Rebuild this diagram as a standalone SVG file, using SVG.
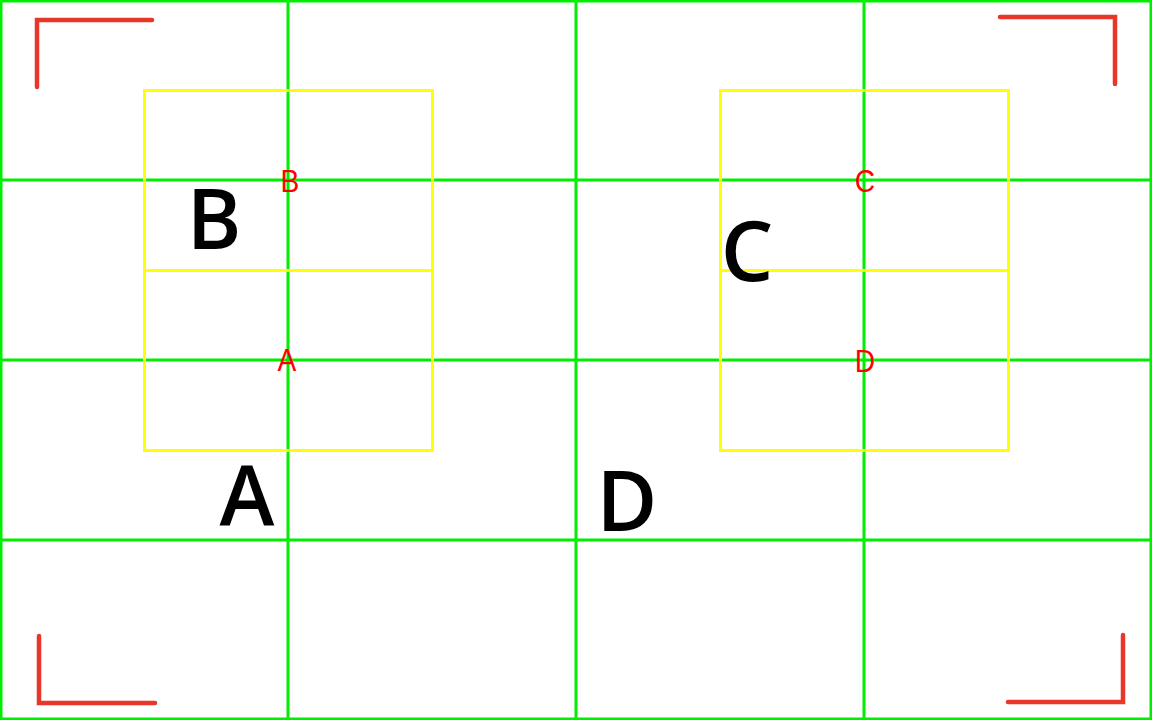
<svg xmlns="http://www.w3.org/2000/svg" width="1152" height="720" viewBox="0 0 1152 720">
<style>
.g{stroke:#00ee00;stroke-width:3;fill:none}
.y{stroke:#ffff00;stroke-width:3;fill:none}
.c{stroke:#e8372a;stroke-width:4.5;fill:none;stroke-linecap:round}
.big{font-family:"Open Sans","Noto Sans",sans-serif;font-size:83px;font-weight:600;fill:#000;text-anchor:middle}
.sm{font-family:"Liberation Sans",Arial,sans-serif;font-size:32px;fill:#ff0000;text-anchor:middle}
</style>
<rect width="1152" height="720" fill="#ffffff"/>
<g id="grid">
<line class="g" x1="1" y1="0" x2="1" y2="720"/>
<line class="g" x1="288" y1="0" x2="288" y2="720"/>
<line class="g" x1="576" y1="0" x2="576" y2="720"/>
<line class="g" x1="864" y1="0" x2="864" y2="720"/>
<line class="g" x1="1151" y1="0" x2="1151" y2="720"/>
<line class="g" x1="0" y1="1" x2="1152" y2="1"/>
<line class="g" x1="0" y1="180" x2="1152" y2="180"/>
<line class="g" x1="0" y1="360" x2="1152" y2="360"/>
<line class="g" x1="0" y1="540" x2="1152" y2="540"/>
<line class="g" x1="0" y1="719" x2="1152" y2="719"/>
</g>
<g id="boxes">
<rect class="y" x="144.5" y="90.5" width="288" height="360"/>
<line class="y" x1="144.5" y1="270.5" x2="432.5" y2="270.5"/>
<rect class="y" x="720.5" y="90.5" width="288" height="360"/>
<line class="y" x1="720.5" y1="270.5" x2="1008.5" y2="270.5"/>
</g>
<g id="corners">
<polyline class="c" points="37,87 37,20 152,20"/>
<polyline class="c" points="1000,17 1115,17 1115,84"/>
<polyline class="c" points="39,636 39,703 155,703"/>
<polyline class="c" points="1008,702 1123,702 1123,635"/>
</g>
<g id="labels">
<text class="sm" transform="translate(290,192) scale(0.88,1)">B</text>
<text class="sm" transform="translate(287,371) scale(0.88,1)">A</text>
<text class="sm" transform="translate(865,192) scale(0.88,1)">C</text>
<text class="sm" transform="translate(865,372) scale(0.88,1)">D</text>
<text class="big" x="214" y="249">B</text>
<text class="big" x="747" y="281">C</text>
<text class="big" x="247" y="526">A</text>
<text class="big" x="627" y="531">D</text>
</g>
</svg>
